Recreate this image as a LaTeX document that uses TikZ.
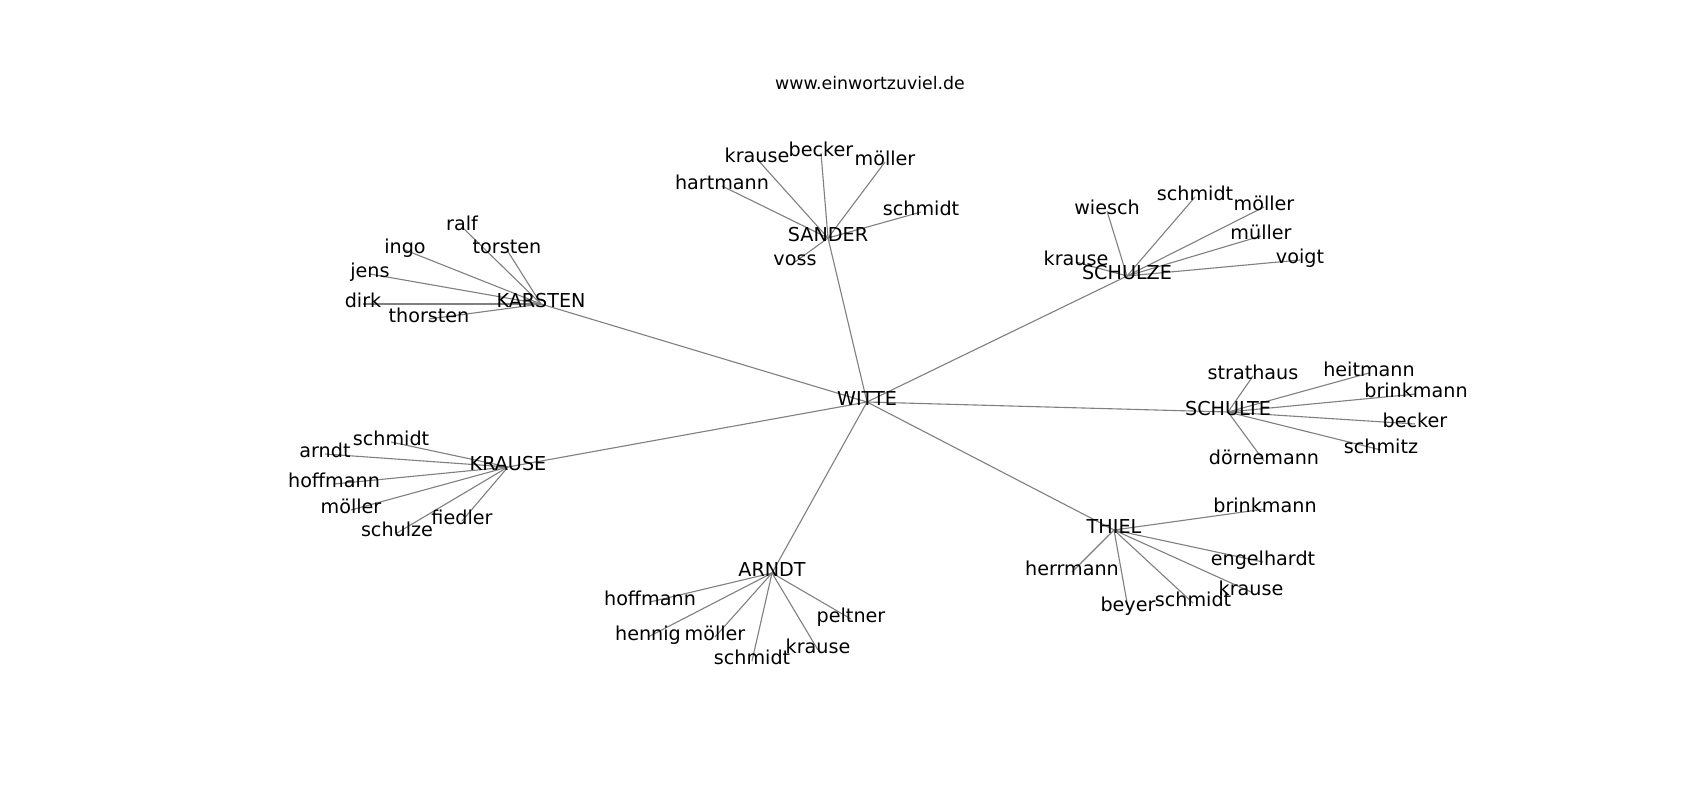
\documentclass[tikz,border=0pt]{standalone}
\usepackage{fontspec}
\setmainfont{DejaVu Sans}
\usetikzlibrary{backgrounds}
\tikzset{
  lbl/.style={inner sep=0pt, text height=0.76em, text depth=0.21em, font=\fontsize{13.8pt}{16pt}\selectfont, text=black},
  ttl/.style={inner sep=0pt, text height=0.76em, text depth=0.21em, font=\fontsize{12.5pt}{15pt}\selectfont, text=black},
  edge/.style={draw=gray, line width=0.8pt}
}
\begin{document}
\begin{tikzpicture}[x=0.72pt, y=-0.72pt]
\useasboundingbox (0,-4) rectangle (1700,796);
\node[ttl] (title) at (870,82) {www.einwortzuviel.de};
% centre
\node[lbl] (witte) at (867,398) {WITTE};
% SANDER
\node[lbl] (sander) at (828,234) {SANDER};
\node[lbl] (s1) at (757,155) {krause};
\node[lbl] (s2) at (821,149) {becker};
\node[lbl] (s3) at (885,158) {möller};
\node[lbl] (s4) at (722,182) {hartmann};
\node[lbl] (s5) at (921,208) {schmidt};
\node[lbl] (s6) at (795,258) {voss};
% KARSTEN
\node[lbl] (karsten) at (541,300) {KARSTEN};
\node[lbl] (k1) at (462,223) {ralf};
\node[lbl] (k2) at (405,246) {ingo};
\node[lbl] (k3) at (507,246) {torsten};
\node[lbl] (k4) at (370,270) {jens};
\node[lbl] (k5) at (363,300) {dirk};
\node[lbl] (k6) at (429,315) {thorsten};
% SCHULZE
\node[lbl] (schulze) at (1127,272) {SCHULZE};
\node[lbl] (z1) at (1107,207) {wiesch};
\node[lbl] (z2) at (1195,193) {schmidt};
\node[lbl] (z3) at (1264,203) {möller};
\node[lbl] (z4) at (1261,232) {müller};
\node[lbl] (z5) at (1300,256) {voigt};
\node[lbl] (z6) at (1076,258) {krause};
% SCHULTE
\node[lbl] (schulte) at (1228,408) {SCHULTE};
\node[lbl] (t1) at (1253,372) {strathaus};
\node[lbl] (t2) at (1369,369) {heitmann};
\node[lbl] (t3) at (1416,390) {brinkmann};
\node[lbl] (t4) at (1415,420) {becker};
\node[lbl] (t5) at (1381,446) {schmitz};
\node[lbl] (t6) at (1264,457) {dörnemann};
% KRAUSE
\node[lbl] (krause) at (508,463) {KRAUSE};
\node[lbl] (r1) at (391,438) {schmidt};
\node[lbl] (r2) at (325,450) {arndt};
\node[lbl] (r3) at (334,480) {hoffmann};
\node[lbl] (r4) at (351,506) {möller};
\node[lbl] (r5) at (397,529) {schulze};
\node[lbl] (r6) at (462,517) {fiedler};
% ARNDT
\node[lbl] (arndt) at (772,569) {ARNDT};
\node[lbl] (a1) at (650,598) {hoffmann};
\node[lbl] (a2) at (648,633) {hennig};
\node[lbl] (a3) at (715,633) {möller};
\node[lbl] (a4) at (752,657) {schmidt};
\node[lbl] (a5) at (818,646) {krause};
\node[lbl] (a6) at (851,615) {peltner};
% THIEL
\node[lbl] (thiel) at (1114,526) {THIEL};
\node[lbl] (h1) at (1265,505) {brinkmann};
\node[lbl] (h2) at (1263,558) {engelhardt};
\node[lbl] (h3) at (1251,588) {krause};
\node[lbl] (h4) at (1193,599) {schmidt};
\node[lbl] (h5) at (1128,604) {beyer};
\node[lbl] (h6) at (1072,568) {herrmann};
\begin{scope}[on background layer]
\foreach \c in {sander,karsten,schulze,schulte,krause,arndt,thiel}
  \draw[edge] (witte.center) -- (\c.center);
\foreach \n in {1,...,6}{
  \draw[edge] (sander.center) -- (s\n.center);
  \draw[edge] (karsten.center) -- (k\n.center);
  \draw[edge] (schulze.center) -- (z\n.center);
  \draw[edge] (schulte.center) -- (t\n.center);
  \draw[edge] (krause.center) -- (r\n.center);
  \draw[edge] (arndt.center) -- (a\n.center);
  \draw[edge] (thiel.center) -- (h\n.center);
}
\end{scope}
\end{tikzpicture}
\end{document}
